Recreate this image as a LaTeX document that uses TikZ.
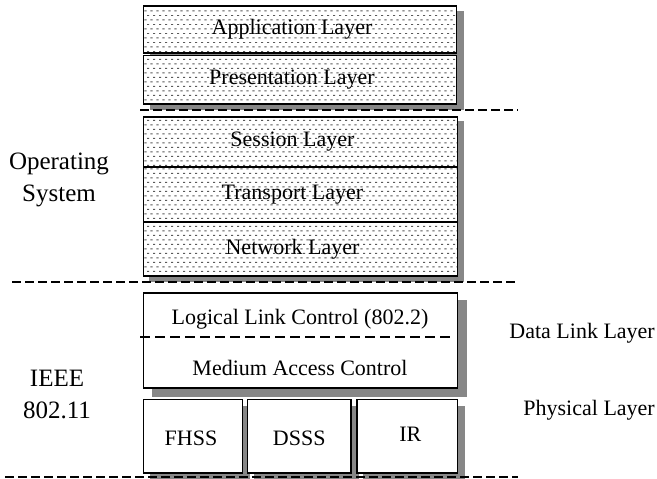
\documentclass[tikz,border=0pt]{standalone}
\usepackage{fontspec}
\setmainfont{Liberation Serif}
\usetikzlibrary{patterns.meta,backgrounds}
\pgfdeclarepattern{
  name=hdash,
  type=uncolored,
  bottom left={\pgfpoint{0pt}{0pt}},
  top right={\pgfpoint{6pt}{8.8pt}},
  tile size={\pgfpoint{6pt}{8.8pt}},
  code={
    \pgfsetlinewidth{1pt}
    \pgfpathmoveto{\pgfpoint{0.5pt}{1.2pt}}\pgfpathlineto{\pgfpoint{3pt}{1.2pt}}
    \pgfpathmoveto{\pgfpoint{3.5pt}{5.6pt}}\pgfpathlineto{\pgfpoint{6pt}{5.6pt}}
    \pgfusepath{stroke}
  }
}
\definecolor{shadowc}{RGB}{135,135,135}
\tikzset{
  layerbox/.style={draw, line width=1.8pt, preaction={fill=white}, pattern=hdash, pattern color=black!65, inner sep=0pt},
  plainbox/.style={draw, line width=1.8pt, fill=white, inner sep=0pt},
  boxtext/.style={font=\fontsize{22}{26}\selectfont, inner sep=0pt},
  sidetext/.style={font=\fontsize{22}{26}\selectfont, inner sep=0pt},
  bigtext/.style={font=\fontsize{25}{32}\selectfont, align=center, inner sep=0pt},
  sepline/.style={line width=1.6pt, dash pattern=on 8.5pt off 4.5pt},
  llcline/.style={line width=1.6pt, dash pattern=on 10pt off 5pt},
  shadowbox/.style={fill=shadowc},
}
\begin{document}
\begin{tikzpicture}[x=1pt,y=-1pt]
\useasboundingbox (0,0) rectangle (657,479);

% upper layers
\node[layerbox, minimum width=313pt, minimum height=47pt] (app) at (300,29.5) {};
\node[layerbox, minimum width=313pt, minimum height=48.5pt] (pres) at (300,79.75) {};
\node[layerbox, minimum width=314pt, minimum height=50pt] (sess) at (300.5,142) {};
\node[layerbox, minimum width=314pt, minimum height=55pt] (trans) at (300.5,194.5) {};
\node[layerbox, minimum width=314pt, minimum height=54pt] (net) at (300.5,249) {};

\node[boxtext] (apptext) at ([xshift=-8pt]app.center) {Application Layer};
\node[boxtext] (prestext) at ([xshift=-8pt]pres.center) {Presentation Layer};
\node[boxtext] (sesstext) at ([xshift=-8pt]sess.center) {Session Layer};
\node[boxtext] (transtext) at ([xshift=-8pt]trans.center) {Transport Layer};
\node[boxtext] (nettext) at ([xshift=-8pt]net.center) {Network Layer};

% data link box
\node[plainbox, minimum width=314pt, minimum height=95pt] (dl) at (300.5,340.5) {};
\coordinate (llcL) at ([xshift=-2.5pt,yshift=3.5pt]dl.west);
\coordinate (llcR) at ([xshift=-4.5pt,yshift=3.5pt]dl.east);
\draw[llcline] (llcL) -- (llcR);
\node[boxtext] (llc) at (300,319) {Logical Link Control (802.2)};
\node[boxtext] (mac) at (300,368) {Medium Access Control};

% physical boxes
\node[plainbox, minimum width=99pt, minimum height=73.5pt] (fhss) at (193,436.25) {};
\node[plainbox, minimum width=103.5pt, minimum height=73.5pt] (dsss) at (299.25,436.25) {};
\node[plainbox, minimum width=100.5pt, minimum height=73.5pt] (ir) at (407.25,436.25) {};
\node[boxtext] (fhsstext) at ([xshift=-2pt,yshift=-2pt]fhss.center) {FHSS};
\node[boxtext] (dssstext) at ([yshift=-2pt]dsss.center) {DSSS};
\node[boxtext] (irtext) at ([xshift=3pt,yshift=2pt]ir.center) {IR};

% shadows and page background
\begin{scope}[on background layer]
  \fill[white] (0,0) rectangle (657,479);
  \fill[shadowbox] ([xshift=7pt,yshift=-6pt]app.north west) rectangle ([xshift=7pt,yshift=-6pt]app.south east);
  \fill[shadowbox] ([xshift=7pt,yshift=-5pt]pres.north west) rectangle ([xshift=7pt,yshift=-5pt]pres.south east);
  \fill[shadowbox] ([xshift=6pt,yshift=-5pt]sess.north west) rectangle ([xshift=6pt,yshift=-5pt]net.south east);
  \fill[shadowbox] ([xshift=9pt,yshift=-8pt]dl.north west) rectangle ([xshift=9pt,yshift=-8.5pt]dl.south east);
  \fill[shadowbox] ([xshift=7pt,yshift=-7pt]fhss.north west) rectangle ([xshift=7pt,yshift=-7pt]fhss.south east);
  \fill[shadowbox] ([xshift=7pt,yshift=-7pt]dsss.north west) rectangle ([xshift=7pt,yshift=-7pt]dsss.south east);
  \fill[shadowbox] ([xshift=7pt,yshift=-7pt]ir.north west) rectangle ([xshift=7pt,yshift=-7pt]ir.south east);
\end{scope}

% separator lines
\coordinate (s1a) at (140,110);
\coordinate (s1b) at (518,110);
\coordinate (s2a) at (12,282);
\coordinate (s2b) at (518,282);
\coordinate (s3a) at (5,477);
\coordinate (s3b) at (518,477);
\draw[sepline] (s1a) -- (s1b);
\draw[sepline] (s2a) -- (s2b);
\draw[sepline] (s3a) -- (s3b);

% side labels
\node[bigtext] (os) at (59,180) {Operating\\System};
\node[bigtext] (ieee) at (57,394) {IEEE\\802.11};
\node[sidetext, anchor=east] (dll) at (655,333) {Data Link Layer};
\node[sidetext, anchor=east] (phy) at (655,410) {Physical Layer};
\end{tikzpicture}
\end{document}
